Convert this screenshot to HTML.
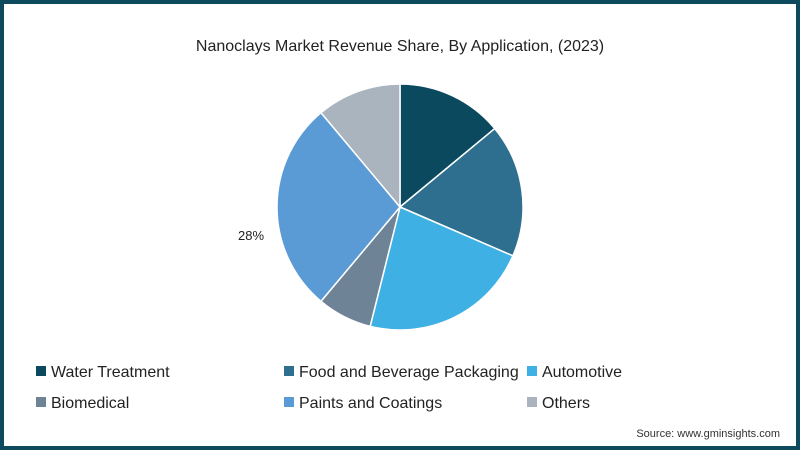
<!DOCTYPE html>
<html><head><meta charset="utf-8"><style>
body{margin:0;width:800px;height:450px;overflow:hidden;font-family:"Liberation Sans",sans-serif;}
#frame{position:absolute;left:0;top:0;width:792px;height:442px;border:4px solid #0d4a5e;background:#fff;}
</style></head><body>
<div id="frame"></div>
<svg width="800" height="450" style="position:absolute;left:0;top:0">
<text x="400" y="51" text-anchor="middle" font-size="16" fill="#222">Nanoclays Market Revenue Share, By Application, (2023)</text>
<g id="pie"></g>
<text x="238" y="240" font-size="13" fill="#222">28%</text>
<g id="legend"></g>
<text x="780" y="437" text-anchor="end" font-size="11" fill="#333">Source: www.gminsights.com</text>
</svg>
<script>
const categories=["Water Treatment","Food and Beverage Packaging","Automotive","Biomedical","Paints and Coatings","Others"];
const values=[14,17.5,22.4,7.2,27.8,11.1];
const colors=["#0b4a5e","#2e6e8e","#3fb0e3","#6f8397","#5b9bd5","#a9b4be"];
const NS="http://www.w3.org/2000/svg";
const cx=400,cy=207,r=123;
const total=values.reduce((a,b)=>a+b,0);
let a0=0;
const pie=document.getElementById('pie');
values.forEach((v,i)=>{
  const a1=a0+v/total*2*Math.PI;
  const x0=cx+r*Math.sin(a0),y0=cy-r*Math.cos(a0),x1=cx+r*Math.sin(a1),y1=cy-r*Math.cos(a1);
  const p=document.createElementNS(NS,'path');
  p.setAttribute('d',`M${cx},${cy}L${x0},${y0}A${r},${r} 0 ${a1-a0>Math.PI?1:0} 1 ${x1},${y1}Z`);
  p.setAttribute('fill',colors[i]);p.setAttribute('stroke','#fff');p.setAttribute('stroke-width','1.5');
  
  
  pie.appendChild(p);a0=a1;
});
const lg=document.getElementById('legend');
const colX=[36,284,527];
categories.forEach((c,i)=>{
  const x=colX[i%3],y=i<3?366:397;
  const g=document.createElementNS(NS,'g');
  
  
  const s=document.createElementNS(NS,'rect');
  s.setAttribute('x',x);s.setAttribute('y',y);s.setAttribute('width',10);s.setAttribute('height',10);s.setAttribute('fill',colors[i]);
  const t=document.createElementNS(NS,'text');
  t.setAttribute('x',x+15);t.setAttribute('y',y+11);t.setAttribute('font-size','16');t.setAttribute('fill','#222');t.textContent=c;
  g.appendChild(s);g.appendChild(t);lg.appendChild(g);
});
</script>
</body></html>
